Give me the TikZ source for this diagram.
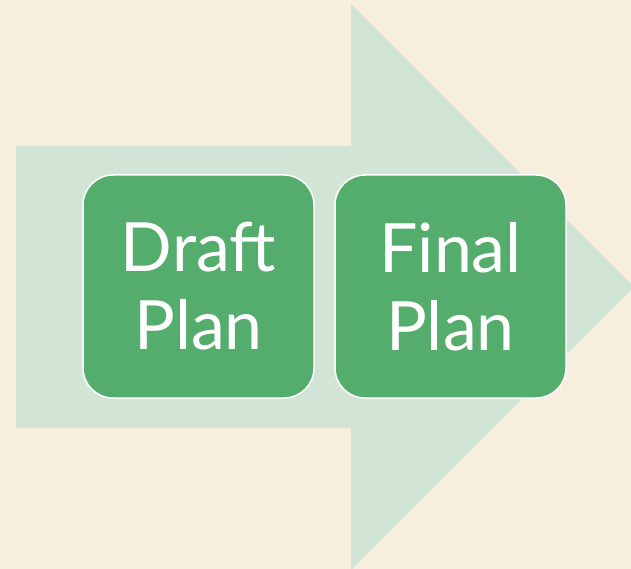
\documentclass[tikz,border=0pt]{standalone}
\usepackage{fontspec}
\setmainfont{Lato}
\definecolor{bgcream}{HTML}{F7EEDE}
\definecolor{arrowgreen}{HTML}{D2E4D6}
\definecolor{boxgreen}{HTML}{54AD6D}
\begin{document}
\begin{tikzpicture}[x=1pt,y=-1pt,
  stepbox/.style={fill=boxgreen,draw=white,line width=1.5pt,rounded corners=30pt,
    minimum width=231pt,minimum height=223pt,text=white,align=center,
    font=\fontsize{68}{78}\selectfont,inner sep=0pt}]
\fill[bgcream] (0,0) rectangle (631,569);
\useasboundingbox (0,0) rectangle (631,569);
\fill[arrowgreen] (16,146) -- (351,146) -- (351,4) -- (634,287) -- (351,570) -- (351,428) -- (16,428) -- cycle;
\node[stepbox] (draft) at (198.5,286.5) {Draft\\Plan};
\node[stepbox] (final) at (450.5,286.5) {Final\\Plan};
\end{tikzpicture}
\end{document}
